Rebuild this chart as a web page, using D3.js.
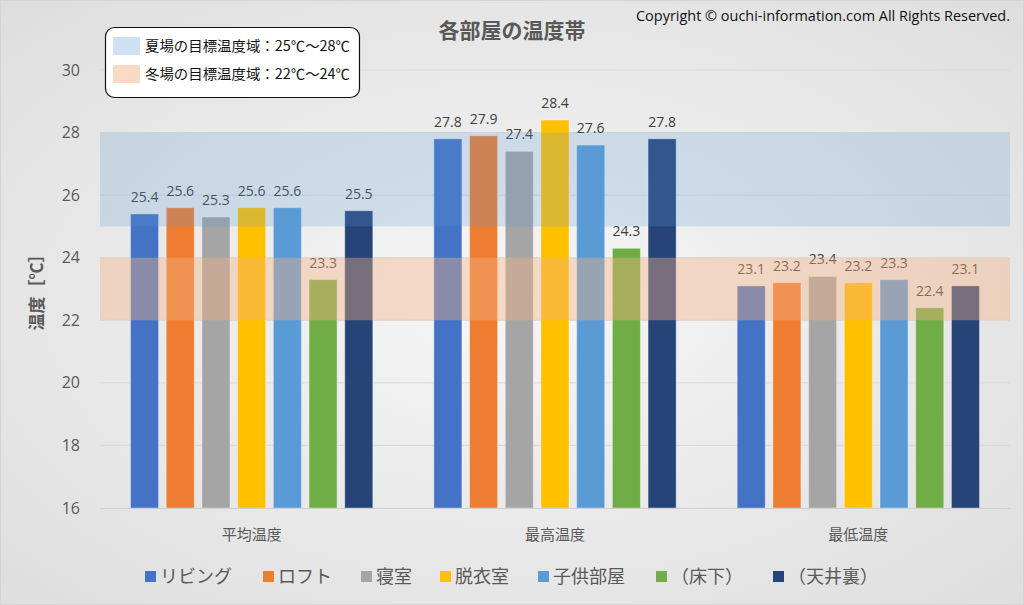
<!DOCTYPE html>
<html><head><meta charset="utf-8">
<script src="https://cdn.jsdelivr.net/npm/d3@7"></script>
<style>html,body{margin:0;padding:0;background:#fff;}svg{display:block;}</style>
</head><body><svg id="c" width="1024" height="605"></svg>
<script>
const categories = ["平均温度", "最高温度", "最低温度"];
const seriesNames = ["リビング", "ロフト", "寝室", "脱衣室", "子供部屋", "（床下）", "（天井裏）"];
const seriesColors = ["#4472C4", "#ED7D31", "#A5A5A5", "#FFC000", "#5B9BD5", "#70AD47", "#264478"];
const livingVals = [25.4, 27.8, 23.1];
const loftVals = [25.6, 27.9, 23.2];
const bedroomVals = [25.3, 27.4, 23.4];
const dressingVals = [25.6, 28.4, 23.2];
const kidsVals = [25.6, 27.6, 23.3];
const underfloorVals = [23.3, 24.3, 22.4];
const atticVals = [25.5, 27.8, 23.1];
const yTicks = [16, 18, 20, 22, 24, 26, 28, 30];
const bands = [
  {label: "夏場の目標温度域：25℃〜28℃", lo: 25, hi: 28, color: "#5B9BD5", op: 0.22},
  {label: "冬場の目標温度域：22℃〜24℃", lo: 22, hi: 24, color: "#F4B183", op: 0.4}
];
const seriesValues = [livingVals, loftVals, bedroomVals, dressingVals, kidsVals, underfloorVals, atticVals];

const svg = d3.select("#c");
const W = 1024, H = 605;
const defs = svg.append("defs");
const rg = defs.append("radialGradient").attr("id", "bg").attr("cx", "50%").attr("cy", "50%").attr("r", "70%");
rg.append("stop").attr("offset", "0%").attr("stop-color", "#f6f6f6");
rg.append("stop").attr("offset", "100%").attr("stop-color", "#dedede");
svg.append("rect").attr("x", 0.5).attr("y", 0.5).attr("width", W - 1).attr("height", H - 1)
  .attr("fill", "url(#bg)").attr("stroke", "#d4d4d4");

const plot = {l: 100, r: 1010, t: 70, b: 508};
const y = d3.scaleLinear().domain([16, 30]).range([plot.b, plot.t]);
const x0 = d3.scaleBand().domain(categories).range([plot.l, plot.r]).padding(0);
const x1 = d3.scaleBand().domain(seriesNames).range([0, x0.bandwidth()]).paddingInner(0.215).paddingOuter(0.855);

const font = "'Noto Sans CJK JP', 'Noto Sans', sans-serif";
const txtColor = "#595959";

// gridlines
svg.append("g").selectAll("line").data(yTicks.filter(t => t > 16)).join("line")
  .attr("x1", plot.l).attr("x2", plot.r).attr("y1", d => y(d)).attr("y2", d => y(d))
  .attr("stroke", "#d9d9d9").attr("stroke-width", 1);

// y axis
const yAxis = d3.axisLeft(y).tickValues(yTicks).tickSize(0).tickPadding(20);
const ya = svg.append("g").attr("transform", `translate(${plot.l},0)`).call(yAxis);
ya.select(".domain").remove();
ya.selectAll("text").attr("font-family", "'Open Sans', sans-serif").attr("font-size", 16).attr("fill", txtColor);

// bars
const gCat = svg.append("g").selectAll("g").data(categories).join("g")
  .attr("transform", d => `translate(${x0(d)},0)`);
gCat.each(function(cat, ci) {
  const g = d3.select(this);
  seriesNames.forEach((s, si) => {
    const v = seriesValues[si][ci];
    g.append("rect").attr("x", x1(s)).attr("width", x1.bandwidth())
      .attr("y", y(v)).attr("height", y(16) - y(v))
      .attr("fill", seriesColors[si]).attr("stroke", "rgba(255,255,255,0.35)").attr("stroke-width", 1);
  });
});

// bands on top
svg.append("g").selectAll("rect").data(bands).join("rect")
  .attr("x", plot.l).attr("width", plot.r - plot.l)
  .attr("y", d => y(d.hi)).attr("height", d => y(d.lo) - y(d.hi))
  .attr("fill", d => d.color).attr("fill-opacity", d => d.op);

// data labels
gCat.each(function(cat, ci) {
  const g = d3.select(this);
  seriesNames.forEach((s, si) => {
    const v = seriesValues[si][ci];
    g.append("text").attr("x", x1(s) + x1.bandwidth() / 2).attr("y", y(v) - 12)
      .attr("text-anchor", "middle").attr("font-family", "'Open Sans', sans-serif")
      .attr("font-size", 14).attr("fill", "#404040").text(v.toFixed(1));
  });
});

// x axis
const xAxis = d3.axisBottom(x0).tickSize(0).tickPadding(21);
const xa = svg.append("g").attr("transform", `translate(0,${plot.b})`).call(xAxis);
xa.select(".domain").attr("stroke", "#d0d0d0").attr("d", `M${plot.l},0.5H${plot.r}`);
xa.selectAll("text").attr("font-family", font).attr("font-size", 15).attr("fill", txtColor);

// y label
svg.append("text").attr("transform", `translate(43,288) rotate(-90)`).attr("text-anchor", "middle")
  .attr("font-family", font).attr("font-size", 17).attr("font-weight", "bold").attr("fill", txtColor)
  .text("温度［℃］");

// title
svg.append("text").attr("x", 512).attr("y", 38).attr("text-anchor", "middle")
  .attr("font-family", font).attr("font-size", 21).attr("font-weight", "bold").attr("fill", txtColor)
  .text("各部屋の温度帯");
svg.append("text").attr("x", 1010).attr("y", 21).attr("text-anchor", "end")
  .attr("font-family", "'Liberation Sans Narrow', 'Open Sans', sans-serif").attr("font-size", 14).attr("fill", "#111")
  .attr("textLength", 374).attr("lengthAdjust", "spacingAndGlyphs")
  .text("Copyright © ouchi-information.com All Rights Reserved.");

// inset legend
const lg = svg.append("g");
lg.append("rect").attr("x", 105.5).attr("y", 27.5).attr("width", 254).attr("height", 70).attr("rx", 9)
  .attr("fill", "#fff").attr("stroke", "#111").attr("stroke-width", 1.2);
bands.forEach((b, i) => {
  lg.append("rect").attr("x", 113).attr("y", 37 + i * 28).attr("width", 27).attr("height", 18)
    .attr("fill", b.color).attr("fill-opacity", b.op + 0.08);
  lg.append("text").attr("x", 145).attr("y", 51 + i * 28)
    .attr("font-family", font).attr("font-size", 14).attr("fill", "#111")
    .attr("textLength", 205).attr("lengthAdjust", "spacingAndGlyphs").text(b.label);
});

// bottom legend
const legX = [145, 263, 361, 440, 538, 656, 773];
const bl = svg.append("g");
seriesNames.forEach((s, i) => {
  bl.append("rect").attr("x", legX[i]).attr("y", 571).attr("width", 11).attr("height", 11).attr("fill", seriesColors[i]);
  bl.append("text").attr("x", legX[i] + 15).attr("y", 583)
    .attr("font-family", font).attr("font-size", 18).attr("fill", txtColor).text(s);
});
</script></body></html>
